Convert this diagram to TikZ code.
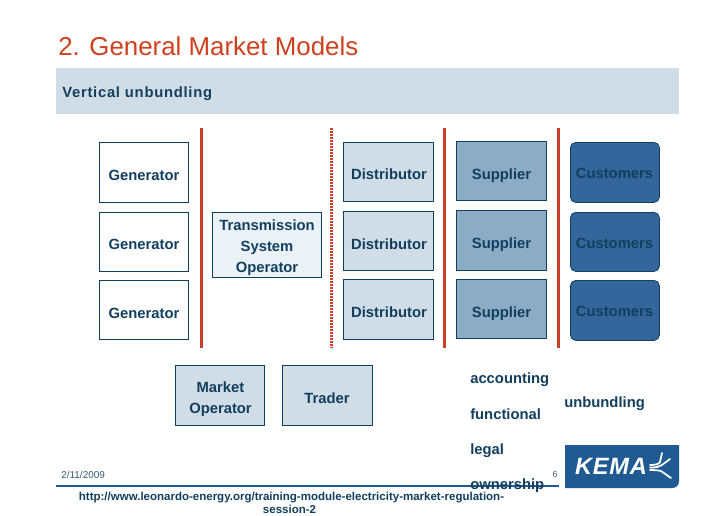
\documentclass[tikz,border=0pt]{standalone}
\usepackage{fontspec}
\setmainfont{Liberation Sans}
\definecolor{ink}{HTML}{123F5E}
\definecolor{band}{HTML}{D0DCE6}
\definecolor{pale}{HTML}{EBF2F7}
\definecolor{mid}{HTML}{8CABC4}
\definecolor{deep}{HTML}{33669B}
\definecolor{redline}{HTML}{C8402A}
\definecolor{titlered}{HTML}{D0401F}
\definecolor{logoblue}{HTML}{1F5B92}
\tikzset{
  box/.style={draw=ink,line width=0.6pt,anchor=north west,inner sep=0pt,align=center},
  lbl/.style={text=ink,inner sep=0pt,anchor=base west,font=\bfseries\fontsize{11.1}{12}\selectfont},
  sep/.style={draw=redline,line width=1.9pt},
  dotsep/.style={draw=redline,line width=1.7pt,dash pattern=on 1.2pt off 1.05pt},
  logostroke/.style={white,line width=1.3pt,line cap=round,line join=round},
}
\newcommand{\bx}[7][]{\node[box,fill=#2,minimum width=#5*0.75pt,minimum height=#6*0.75pt,#1] (#7) at (#3,#4) {};}
\begin{document}
\begin{tikzpicture}[x=0.75pt,y=-0.75pt]
\useasboundingbox (0,0) rectangle (728,515);
\fill[white] (0,0) rectangle (728,515);
\node[anchor=base west,inner sep=0pt,text=titlered,font=\fontsize{19.4}{22}\selectfont] (title) at (58,55) {2. General Market Models};
\fill[band] (56,68) rectangle (679,114);
\node[lbl,anchor=base west,font=\bfseries\fontsize{11.1}{12}\selectfont\addfontfeature{LetterSpace=5}] (sub) at (62,97) {Vertical unbundling};
% separators
\coordinate (s1a) at (201.5,128); \coordinate (s1b) at (201.5,348);
\coordinate (s2a) at (331.5,128); \coordinate (s2b) at (331.5,348);
\coordinate (s3a) at (444.5,128); \coordinate (s3b) at (444.5,348);
\coordinate (s4a) at (558.5,128); \coordinate (s4b) at (558.5,348);
\draw[sep] (s1a) -- (s1b);
\draw[dotsep] (s2a) -- (s2b);
\draw[sep] (s3a) -- (s3b);
\draw[sep] (s4a) -- (s4b);
% boxes
\bx{white}{99}{142}{89}{60}{g1} \bx{white}{99}{212}{89}{59}{g2} \bx{white}{99}{280}{89}{59}{g3}
\bx{pale}{212}{212}{109}{65}{tso}
\bx{band}{343}{142}{90}{59}{d1} \bx{band}{343}{211}{90}{59}{d2} \bx{band}{343}{279}{90}{60}{d3}
\bx{mid}{456}{141}{90}{59}{s1} \bx{mid}{456}{210}{90}{60}{s2} \bx{mid}{456}{279}{90}{59}{s3}
\bx[rounded corners=4pt]{deep}{570}{142}{89}{60}{c1} \bx[rounded corners=4pt]{deep}{570}{212}{89}{59}{c2} \bx[rounded corners=4pt]{deep}{570}{280}{89}{60}{c3}
\bx{band}{175}{365}{89}{60}{mo} \bx{band}{282}{365}{90}{60}{tr}
% box texts
\foreach \n/\t/\x/\y in {g1/Generator/144/180,g2/Generator/144/249,g3/Generator/144/318,
  d1/Distributor/389/179,d2/Distributor/389/249,d3/Distributor/389/317,
  s1/Supplier/501.5/179,s2/Supplier/501.5/248,s3/Supplier/501.5/317,
  c1/Customers/614.5/178,c2/Customers/614.5/248,c3/Customers/614.5/316,tr/Trader/327/403}{
  \node[lbl,anchor=base] (t\n) at (\x,\y) {\t};
}
\node[lbl,anchor=base] (ttso1) at (267,230) {Transmission};
\node[lbl,anchor=base] (ttso2) at (267,251) {System};
\node[lbl,anchor=base] (ttso3) at (267,272) {Operator};
\node[lbl,anchor=base] (tmo1) at (220.5,392) {Market};
\node[lbl,anchor=base] (tmo2) at (220.5,413) {Operator};
% footer
\coordinate (fa) at (56,486); \coordinate (fb) at (559,486);
\draw[draw=logoblue,line width=1.6pt] (fa) -- (fb);
\node[anchor=base west,inner sep=0pt,text=ink!85,font=\fontsize{7.5}{8}\selectfont] (date) at (61,478) {2/11/2009};
\node[anchor=base,inner sep=0pt,text=ink!85,font=\fontsize{6.5}{7}\selectfont] (pg) at (555,477) {6};
\node[lbl] (a1) at (470,383) {accounting};
\node[lbl] (a2) at (470,419) {functional};
\node[lbl] (a3) at (470,454) {legal};
\node[lbl] (a4) at (470,489) {ownership};
\node[lbl] (ub) at (564,407) {unbundling};
\node[anchor=base,inner sep=0pt,text=ink,font=\bfseries\fontsize{8.63}{12}\selectfont] (url) at (291.5,500) {http://www.leonardo-energy.org/training-module-electricity-market-regulation-};
\node[anchor=base,inner sep=0pt,text=ink,font=\bfseries\fontsize{8.63}{12}\selectfont] (url2) at (289.5,513) {session-2};
% logo
\fill[logoblue] (565,445) -- (679,445) [rounded corners=5pt] -- (679,488) [sharp corners] -- (565,488) -- cycle;
\node[inner sep=0pt,text=white,font=\bfseries\itshape\fontsize{17.7}{20}\selectfont\addfontfeature{LetterSpace=3}] (kema) at (611,466.5) {KEMA};
\draw[logostroke] (662,453) -- (660,462) .. controls (659,464) and (656,465) .. (650,465);
\draw[logostroke] (670,459) -- (662,465) .. controls (659,467) and (656,467.5) .. (650,467.5);
\draw[logostroke] (671,478) -- (661,471) .. controls (659,470.5) and (656,470) .. (650,470);
\end{tikzpicture}
\end{document}
